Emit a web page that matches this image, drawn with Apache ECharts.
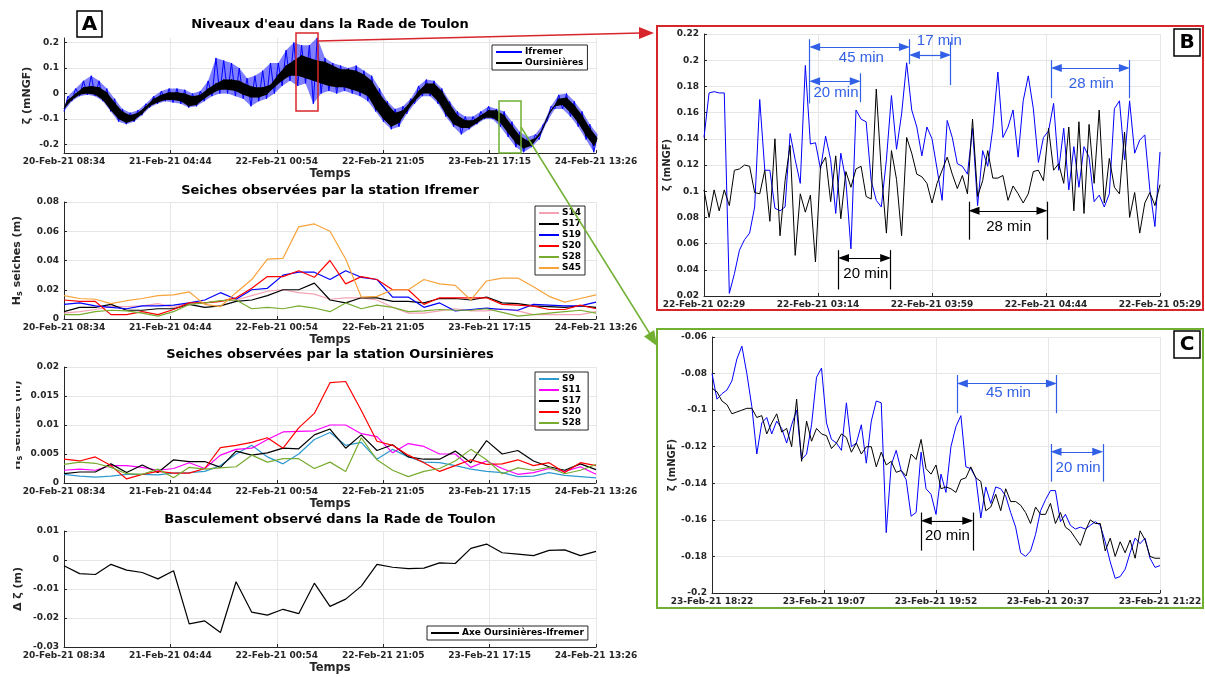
<!DOCTYPE html>
<html lang="fr">
<head>
<meta charset="UTF-8">
<title>Niveaux d'eau dans la Rade de Toulon</title>
<script src="https://cdn.jsdelivr.net/npm/echarts@6.0.0/dist/echarts.min.js"></script>
<style>html,body{margin:0;padding:0;background:#fff;}</style>
</head>
<body>
<div id="main" style="width:1205px;height:677px;"></div>
<script>
// tick labels
const aTicks = ['20-Feb-21 08:34', '21-Feb-21 04:44', '22-Feb-21 00:54', '22-Feb-21 21:05', '23-Feb-21 17:15', '24-Feb-21 13:26'];
const bTicks = ['22-Feb-21 02:29', '22-Feb-21 03:14', '22-Feb-21 03:59', '22-Feb-21 04:44', '22-Feb-21 05:29'];
const cTicks = ['23-Feb-21 18:22', '23-Feb-21 19:07', '23-Feb-21 19:52', '23-Feb-21 20:37', '23-Feb-21 21:22'];

// panel A1 : water level band (high / low of the noisy signal), one pair every ~89 min
const a1Step = 88.6;
const ifrHi = [-0.01,0.02,0.05,0.07,0.05,0.02,-0.02,-0.06,-0.075,-0.065,-0.04,-0.01,0.01,0.02,0.02,0.015,0.0,0.01,0.05,0.14,0.13,0.12,0.10,0.06,0.07,0.09,0.12,0.12,0.17,0.2,0.19,0.19,0.22,0.14,0.12,0.11,0.1,0.11,0.09,0.07,0.02,-0.03,-0.06,-0.05,-0.02,0.03,0.055,0.05,0.02,-0.03,-0.07,-0.09,-0.09,-0.07,-0.05,-0.06,-0.07,-0.11,-0.15,-0.17,-0.16,-0.12,-0.05,-0.005,0.0,-0.03,-0.07,-0.12,-0.16];
const ifrLo = [-0.07,-0.03,-0.01,-0.005,-0.01,-0.03,-0.07,-0.11,-0.12,-0.11,-0.085,-0.055,-0.04,-0.03,-0.035,-0.04,-0.055,-0.05,-0.03,-0.01,0.0,0.0,-0.01,-0.02,-0.05,-0.03,-0.02,0.0,0.03,0.05,0.03,0.04,-0.04,0.0,0.01,0.0,0.01,0.0,-0.01,-0.03,-0.07,-0.11,-0.14,-0.13,-0.08,-0.04,-0.01,-0.01,-0.04,-0.09,-0.13,-0.16,-0.14,-0.12,-0.1,-0.1,-0.13,-0.17,-0.21,-0.23,-0.21,-0.18,-0.11,-0.06,-0.06,-0.09,-0.13,-0.18,-0.23];
const ourHi = [-0.025,0.0,0.025,0.03,0.025,0.005,-0.035,-0.07,-0.085,-0.075,-0.05,-0.02,-0.005,0.005,0.005,0.0,-0.01,-0.005,0.02,0.04,0.055,0.055,0.05,0.035,0.025,0.025,0.035,0.075,0.11,0.13,0.15,0.14,0.13,0.125,0.11,0.095,0.095,0.09,0.075,0.05,0.0,-0.04,-0.075,-0.065,-0.03,0.01,0.04,0.04,0.01,-0.04,-0.085,-0.105,-0.105,-0.085,-0.065,-0.065,-0.085,-0.125,-0.165,-0.185,-0.175,-0.135,-0.065,-0.02,-0.015,-0.045,-0.085,-0.135,-0.175];
const ourLo = [-0.06,-0.025,-0.005,0.0,-0.005,-0.025,-0.065,-0.1,-0.115,-0.105,-0.08,-0.05,-0.035,-0.025,-0.025,-0.03,-0.05,-0.045,-0.02,0.0,0.015,0.015,0.01,-0.005,-0.015,-0.015,-0.005,0.025,0.05,0.07,0.07,0.06,0.05,0.04,0.03,0.025,0.025,0.015,0.005,-0.01,-0.06,-0.1,-0.13,-0.115,-0.07,-0.03,0.0,0.0,-0.03,-0.08,-0.12,-0.135,-0.135,-0.115,-0.095,-0.095,-0.115,-0.155,-0.195,-0.215,-0.205,-0.165,-0.095,-0.05,-0.045,-0.075,-0.115,-0.165,-0.205];

// panels A2-A4 : sample times (minutes after 20-Feb-21 08:34)
const seichT = [0,178,356,534,712,890,1068,1246,1424,1601,1779,1957,2135,2313,2491,2669,2847,3025,3203,3381,3559,3737,3915,4093,4271,4449,4627,4805,4983,5161,5339,5516,5694,5872,6050];

// A2 : seiches Ifremer
const ifrS14 = [0.004,0.005,0.0065,0.0085,0.0085,0.009,0.0105,0.008,0.011,0.011,0.012,0.013,0.016,0.019,0.020,0.018,0.017,0.0135,0.0145,0.0145,0.013,0.008,0.004,0.004,0.0055,0.007,0.0055,0.0055,0.007,0.0055,0.003,0.003,0.003,0.003,0.005];
const ifrS17 = [0.005,0.008,0.008,0.010,0.006,0.006,0.007,0.007,0.010,0.008,0.009,0.012,0.013,0.016,0.020,0.020,0.0245,0.013,0.011,0.0145,0.0145,0.012,0.012,0.011,0.014,0.014,0.013,0.015,0.011,0.0105,0.009,0.0085,0.008,0.009,0.008];
const ifrS19 = [0.010,0.011,0.009,0.008,0.007,0.009,0.009,0.0095,0.011,0.013,0.018,0.0135,0.020,0.021,0.030,0.032,0.032,0.027,0.033,0.0285,0.027,0.015,0.015,0.008,0.011,0.0055,0.0065,0.0075,0.0065,0.006,0.010,0.0095,0.009,0.009,0.0115];
const ifrS20 = [0.013,0.012,0.012,0.003,0.003,0.005,0.003,0.0065,0.011,0.011,0.012,0.0145,0.021,0.029,0.029,0.033,0.0285,0.040,0.024,0.029,0.027,0.020,0.020,0.010,0.0145,0.0145,0.0145,0.0145,0.010,0.0095,0.0088,0.0065,0.0065,0.0095,0.007];
const ifrS28 = [0.003,0.003,0.005,0.006,0.0055,0.004,0.002,0.005,0.010,0.011,0.0125,0.013,0.007,0.008,0.007,0.009,0.0075,0.005,0.011,0.007,0.0095,0.008,0.005,0.0055,0.0065,0.006,0.006,0.007,0.0045,0.002,0.003,0.004,0.005,0.006,0.004];
const ifrS45 = [0.016,0.014,0.0135,0.0105,0.0125,0.014,0.016,0.0165,0.0185,0.010,0.0085,0.018,0.027,0.041,0.0415,0.063,0.065,0.060,0.041,0.015,0.0155,0.020,0.020,0.027,0.024,0.023,0.013,0.026,0.028,0.028,0.022,0.0155,0.0115,0.014,0.0165];

// A3 : seiches Oursinieres
const ourS9 = [0.0015,0.0012,0.001,0.0012,0.0015,0.0015,0.0014,0.0017,0.0018,0.002,0.003,0.005,0.0065,0.0045,0.0033,0.005,0.0075,0.0087,0.0065,0.007,0.0041,0.0058,0.0045,0.0036,0.0035,0.003,0.0024,0.002,0.0018,0.0011,0.0012,0.0018,0.0013,0.0011,0.0009];
const ourS11 = [0.0022,0.0024,0.0022,0.003,0.003,0.0027,0.0022,0.0025,0.0035,0.0025,0.0048,0.0058,0.006,0.0075,0.0088,0.0089,0.009,0.010,0.010,0.0085,0.008,0.0052,0.0068,0.0063,0.005,0.005,0.0027,0.0038,0.0025,0.0015,0.0018,0.0025,0.002,0.0028,0.0015];
const ourS17 = [0.0016,0.0019,0.0019,0.0033,0.0018,0.0031,0.0018,0.0040,0.0037,0.0037,0.0027,0.0055,0.0048,0.0052,0.006,0.0059,0.0083,0.0093,0.006,0.0083,0.0056,0.0066,0.0045,0.0041,0.0041,0.0055,0.0035,0.0073,0.005,0.0056,0.0038,0.0028,0.0022,0.0033,0.0023];
const ourS20 = [0.0041,0.0038,0.0045,0.003,0.0007,0.0015,0.002,0.0017,0.0017,0.0025,0.0061,0.0065,0.007,0.0078,0.006,0.0095,0.012,0.0173,0.0175,0.0125,0.0072,0.0065,0.0048,0.0035,0.002,0.003,0.004,0.0032,0.0033,0.004,0.003,0.0035,0.0018,0.0035,0.003];
const ourS28 = [0.0032,0.0036,0.0034,0.0027,0.0016,0.0015,0.0024,0.0009,0.0027,0.0024,0.0026,0.0028,0.0048,0.0036,0.0042,0.0042,0.0025,0.0036,0.002,0.0078,0.004,0.0022,0.0011,0.002,0.0025,0.0038,0.0058,0.004,0.0016,0.0026,0.0022,0.0027,0.0016,0.0022,0.0032];

// A4 : basculement
const basc = [-0.002,-0.0047,-0.005,-0.0015,-0.0035,-0.0043,-0.0065,-0.0037,-0.022,-0.021,-0.025,-0.0075,-0.018,-0.019,-0.017,-0.0185,-0.008,-0.016,-0.0135,-0.009,-0.0015,-0.0025,-0.003,-0.0028,-0.001,-0.0012,0.004,0.0055,0.0025,0.002,0.0015,0.0033,0.0035,0.0015,0.003];

// B and C : one value every 2 min over 3 h
const zoomStep = 2;
const bIfr = [0.141,0.175,0.176,0.175,0.175,0.022,0.037,0.055,0.063,0.068,0.088,0.17,0.116,0.116,0.087,0.085,0.088,0.144,0.124,0.106,0.196,0.136,0.137,0.117,0.142,0.124,0.083,0.129,0.108,0.056,0.162,0.155,0.153,0.108,0.093,0.088,0.124,0.173,0.132,0.159,0.198,0.162,0.149,0.127,0.149,0.140,0.117,0.093,0.154,0.141,0.121,0.119,0.113,0.148,0.089,0.131,0.119,0.148,0.191,0.141,0.149,0.162,0.126,0.169,0.188,0.163,0.122,0.141,0.146,0.167,0.116,0.148,0.101,0.134,0.103,0.134,0.126,0.092,0.097,0.088,0.098,0.163,0.169,0.124,0.169,0.129,0.139,0.143,0.101,0.073,0.13];
const bOur = [0.101,0.080,0.101,0.085,0.101,0.089,0.116,0.117,0.12,0.119,0.099,0.098,0.116,0.077,0.140,0.066,0.108,0.135,0.051,0.098,0.084,0.097,0.046,0.119,0.126,0.092,0.127,0.079,0.115,0.103,0.117,0.119,0.096,0.094,0.178,0.115,0.068,0.131,0.109,0.066,0.141,0.129,0.113,0.111,0.106,0.091,0.106,0.116,0.126,0.113,0.102,0.112,0.098,0.155,0.096,0.108,0.131,0.110,0.110,0.112,0.093,0.104,0.098,0.091,0.098,0.115,0.116,0.108,0.148,0.116,0.121,0.106,0.149,0.085,0.153,0.083,0.151,0.106,0.162,0.091,0.125,0.103,0.098,0.145,0.080,0.099,0.068,0.091,0.099,0.089,0.105];
const cIfr = [-0.080,-0.094,-0.091,-0.089,-0.084,-0.072,-0.065,-0.080,-0.098,-0.124,-0.107,-0.104,-0.113,-0.106,-0.110,-0.118,-0.108,-0.100,-0.127,-0.124,-0.108,-0.082,-0.077,-0.107,-0.116,-0.118,-0.122,-0.096,-0.120,-0.118,-0.108,-0.129,-0.106,-0.095,-0.096,-0.167,-0.130,-0.122,-0.133,-0.138,-0.158,-0.156,-0.123,-0.143,-0.146,-0.157,-0.135,-0.145,-0.120,-0.109,-0.103,-0.131,-0.132,-0.137,-0.159,-0.142,-0.151,-0.142,-0.143,-0.147,-0.156,-0.164,-0.178,-0.180,-0.177,-0.168,-0.155,-0.149,-0.144,-0.144,-0.161,-0.157,-0.163,-0.165,-0.164,-0.165,-0.163,-0.161,-0.163,-0.172,-0.183,-0.192,-0.191,-0.187,-0.178,-0.170,-0.173,-0.170,-0.181,-0.186,-0.185];
const cOur = [-0.088,-0.090,-0.095,-0.097,-0.102,-0.101,-0.100,-0.099,-0.099,-0.104,-0.103,-0.113,-0.107,-0.102,-0.112,-0.110,-0.120,-0.094,-0.128,-0.106,-0.117,-0.110,-0.113,-0.114,-0.121,-0.118,-0.113,-0.115,-0.123,-0.118,-0.124,-0.120,-0.120,-0.131,-0.123,-0.130,-0.128,-0.134,-0.133,-0.136,-0.124,-0.127,-0.116,-0.132,-0.135,-0.130,-0.143,-0.142,-0.143,-0.145,-0.138,-0.137,-0.131,-0.137,-0.139,-0.155,-0.153,-0.146,-0.155,-0.143,-0.150,-0.150,-0.152,-0.156,-0.162,-0.153,-0.157,-0.157,-0.151,-0.162,-0.156,-0.164,-0.166,-0.170,-0.174,-0.166,-0.160,-0.162,-0.162,-0.177,-0.170,-0.180,-0.172,-0.178,-0.171,-0.181,-0.166,-0.171,-0.180,-0.181,-0.181];

// annotations (minutes from panel start, value)
// arrows: [x1, x2, y, colour], bars: [x, yTop, yBottom, colour], texts: [x, y, text, colour]
const bArrows = [[41.7, 81.1, 0.210, 'b'], [81.1, 97.4, 0.204, 'b'], [41.7, 61.7, 0.184, 'b'], [137.1, 167.9, 0.194, 'b'], [104.6, 135.4, 0.085, 'k'], [53.1, 73.7, 0.049, 'k']];
const bBars = [[41.7, 0.216, 0.167, 'b'], [81.1, 0.216, 0.197, 'b'], [97.4, 0.214, 0.181, 'b'], [61.7, 0.190, 0.168, 'b'], [137.1, 0.200, 0.171, 'b'], [167.9, 0.200, 0.171, 'b'], [104.6, 0.092, 0.063, 'k'], [135.4, 0.092, 0.063, 'k'], [53.1, 0.055, 0.025, 'k'], [73.7, 0.055, 0.025, 'k']];
const bTexts = [[62.1, 0.202, '45 min', 'b'], [92.9, 0.2144, '17 min', 'b'], [52.1, 0.175, '20 min', 'b'], [152.9, 0.182, '28 min', 'b'], [120.3, 0.073, '28 min', 'k'], [63.9, 0.037, '20 min', 'k']];
const cArrows = [[98.6, 138.4, -0.0854, 'b'], [136.2, 157.0, -0.1228, 'b'], [84.1, 104.8, -0.1605, 'k']];
const cBars = [[98.6, -0.0808, -0.1017, 'b'], [138.4, -0.0808, -0.1017, 'b'], [136.2, -0.1185, -0.1391, 'b'], [157.0, -0.1185, -0.1391, 'b'], [84.1, -0.156, -0.1768, 'k'], [104.8, -0.156, -0.1768, 'k']];
const cTexts = [[119.1, -0.0908, '45 min', 'b'], [147.1, -0.1315, '20 min', 'b'], [94.6, -0.1687, '20 min', 'k']];

const annColor = { b: '#3160e6', k: '#000000' };
const axisCol = '#262626';
const gridCol = '#e6e6e6';
const boldFont = 'DejaVu Sans';

function pairs(xs, ys) { return ys.map((v, i) => [xs[i], v]); }
// zigzag between the low and the high reading of each step
function band(hi, lo, step) {
  const out = [];
  hi.forEach((h, i) => {
    out.push([i * step, lo[i]]);
    out.push([i * step + step / 2, h]);
  });
  return out;
}
const zoomT = bIfr.map((v, i) => i * zoomStep);

function xAxis(gi, max, interval, ticks, name) {
  return {
    type: 'value', gridIndex: gi, min: 0, max: max, interval: interval,
    axisLine: { show: true, onZero: false, lineStyle: { color: axisCol } },
    axisTick: { show: true, inside: true, length: 3, lineStyle: { color: axisCol } },
    axisLabel: { formatter: v => ticks[Math.round(v / interval)] || '', color: axisCol, fontSize: 9, fontWeight: 'bold', fontFamily: boldFont, margin: 4, showMinLabel: true, showMaxLabel: true },
    splitLine: { show: true, lineStyle: { color: gridCol } },
    name: name, nameLocation: 'middle', nameGap: 15,
    nameTextStyle: { color: axisCol, fontSize: 11.5, fontWeight: 'bold', fontFamily: boldFont }
  };
}
function yAxis(gi, min, max, interval, name, gap, nameSize, extra) {
  const ax = {
    type: 'value', gridIndex: gi, min: min, max: max,
    axisLine: { show: true, onZero: false, lineStyle: { color: axisCol } },
    axisTick: { show: true, inside: true, length: 3, lineStyle: { color: axisCol } },
    axisLabel: { color: axisCol, fontSize: 9, fontWeight: 'bold', fontFamily: boldFont, margin: 5 },
    splitLine: { show: true, lineStyle: { color: gridCol } },
    name: name, nameLocation: 'middle', nameGap: gap,
    nameTextStyle: { color: axisCol, fontSize: nameSize, fontWeight: 'bold', fontFamily: boldFont,
      rich: { n: { fontSize: nameSize, fontWeight: 'bold', fontFamily: boldFont, color: axisCol },
              s: { fontSize: 8, fontWeight: 'bold', fontFamily: boldFont, color: axisCol, padding: [6, 0, 0, 0] } } }
  };
  if (interval) ax.interval = interval;
  if (extra) {
    ax.axisLabel.customValues = extra;
    ax.axisTick.customValues = extra;
  }
  return ax;
}
function line(name, gi, data, color, width, z) {
  return {
    type: 'line', name: name, xAxisIndex: gi, yAxisIndex: gi, data: data,
    symbol: 'none', showSymbol: false, z: z || 2,
    lineStyle: { color: color, width: width }, itemStyle: { color: color },
    emphasis: { disabled: true }
  };
}
// polygon between the high and low readings of the A1 signal
function fill(hi, lo, step, color, opacity, z) {
  return {
    type: 'custom', xAxisIndex: 0, yAxisIndex: 0, z: z, silent: true,
    data: [[0, lo[0]]],
    renderItem: function (params, api) {
      const pts = [];
      hi.forEach((v, i) => pts.push(api.coord([i * step + step / 2, v])));
      for (let i = lo.length - 1; i >= 0; i--) pts.push(api.coord([i * step, lo[i]]));
      return { type: 'polygon', shape: { points: pts }, style: { fill: color, opacity: opacity } };
    }
  };
}
function annotations(arrows, bars, texts, pxPerMin) {
  const inset = 5 / pxPerMin;
  const lines = [];
  arrows.forEach(a => {
    lines.push([
      { coord: [a[0] + inset, a[2]], symbol: 'triangle', symbolSize: [8, 11], lineStyle: { color: annColor[a[3]], width: 1.2, type: 'solid' }, itemStyle: { color: annColor[a[3]] } },
      { coord: [a[1] - inset, a[2]], symbol: 'triangle', symbolSize: [8, 11] }
    ]);
  });
  bars.forEach(b => {
    lines.push([
      { coord: [b[0], b[1]], symbol: 'none', lineStyle: { color: annColor[b[3]], width: 1.2, type: 'solid' } },
      { coord: [b[0], b[2]], symbol: 'none' }
    ]);
  });
  return {
    markLine: { silent: true, animation: false, symbol: ['none', 'none'], label: { show: false }, emphasis: { disabled: true }, data: lines },
    markPoint: {
      silent: true, animation: false, symbol: 'rect', symbolSize: 1, itemStyle: { color: 'rgba(0,0,0,0)' },
      label: { show: true, position: 'inside', formatter: '{b}', fontSize: 15, fontFamily: 'Liberation Sans' },
      data: texts.map(t => ({ name: t[2], coord: [t[0], t[1]], label: { color: annColor[t[3]] } }))
    }
  };
}

const legendBase = {
  orient: 'vertical', selectedMode: false, backgroundColor: '#fff',
  borderColor: axisCol, borderWidth: 1, padding: [2, 4, 2, 3],
  itemGap: 1, itemWidth: 20, itemHeight: 10, icon: 'inherit',
  itemStyle: { opacity: 0 },
  textStyle: { fontSize: 9, fontWeight: 'bold', fontFamily: boldFont, color: '#000', lineHeight: 10, padding: [0, 0, 0, -2] }
};
function legend(opts) { return Object.assign({}, legendBase, opts); }

const titleStyle = { fontSize: 13, fontWeight: 'bold', fontFamily: boldFont, color: '#000' };
function title(text, top) { return { text: text, left: 330, top: top, textAlign: 'center', padding: 0, textStyle: titleStyle }; }

const chart = echarts.init(document.getElementById('main'));

const bBlack = line('B Oursinieres', 4, pairs(zoomT, bOur), '#000000', 1, 3);
Object.assign(bBlack, annotations(bArrows, bBars, bTexts, 456 / 180));
const cBlack = line('C Oursinieres', 5, pairs(zoomT, cOur), '#000000', 1, 3);
Object.assign(cBlack, annotations(cArrows, cBars, cTexts, 448 / 180));

const option = {
  animation: false,
  backgroundColor: '#ffffff',
  title: [
    title("Niveaux d'eau dans la Rade de Toulon", 18),
    title('Seiches observées par la station Ifremer', 184),
    title('Seiches observées par la station Oursinières', 348),
    title('Basculement observé dans la Rade de Toulon', 513)
  ],
  legend: [
    legend({ left: 492, top: 45, itemWidth: 26, data: ['Ifremer', 'Oursinières'] }),
    legend({ left: 535, top: 206, data: ['S14', 'S17', 'S19', 'S20', 'S28', 'S45'] }),
    legend({ left: 535, top: 372, data: ['S9', 'S11', 'S17 ', 'S20 ', 'S28 '] }),
    legend({ left: 427, top: 626, itemWidth: 28, orient: 'horizontal', data: ['Axe Oursinières-Ifremer'] })
  ],
  grid: [
    { left: 64, top: 38, width: 532, height: 115, outerBoundsMode: 'none' },
    { left: 64, top: 202, width: 532, height: 117, outerBoundsMode: 'none' },
    { left: 64, top: 367, width: 532, height: 116, outerBoundsMode: 'none' },
    { left: 64, top: 531, width: 532, height: 116, outerBoundsMode: 'none' },
    { left: 704, top: 34, width: 456, height: 262, outerBoundsMode: 'none' },
    { left: 712, top: 337, width: 448, height: 256, outerBoundsMode: 'none' }
  ],
  xAxis: [
    xAxis(0, 6050, 1210, aTicks, 'Temps'),
    xAxis(1, 6050, 1210, aTicks, 'Temps'),
    xAxis(2, 6050, 1210, aTicks, 'Temps'),
    xAxis(3, 6050, 1210, aTicks, 'Temps'),
    xAxis(4, 180, 45, bTicks, ''),
    xAxis(5, 180, 45, cTicks, '')
  ],
  yAxis: [
    yAxis(0, -0.233, 0.218, null, '\u03B6 (mNGF)', 31, 11, [-0.2, -0.1, 0, 0.1, 0.2]),
    yAxis(1, 0, 0.08, 0.02, '{n|H}{s|s}{n| seiches (m)}', 40, 11),
    yAxis(2, 0, 0.02, 0.005, '{n|H}{s|s}{n| seiches (m)}', 40, 11),
    yAxis(3, -0.03, 0.01, 0.01, '\u0394 \u03B6 (m)', 40, 11),
    yAxis(4, 0.02, 0.22, 0.02, '\u03B6 (mNGF)', 30, 10),
    yAxis(5, -0.2, -0.06, 0.02, '\u03B6 (mNGF)', 28, 10)
  ],
  series: [
    fill(ifrHi, ifrLo, a1Step, '#0000ff', 0.5, 1),
    line('Ifremer', 0, band(ifrHi, ifrLo, a1Step), '#0000ff', 1, 2),
    fill(ourHi, ourLo, a1Step, '#000000', 1, 3),
    line('Oursinières', 0, band(ourHi, ourLo, a1Step), '#000000', 1, 4),

    line('S14', 1, pairs(seichT, ifrS14), '#f4a3b5', 1.2),
    line('S17', 1, pairs(seichT, ifrS17), '#000000', 1.2),
    line('S19', 1, pairs(seichT, ifrS19), '#0000ff', 1.2),
    line('S20', 1, pairs(seichT, ifrS20), '#ff0000', 1.2),
    line('S28', 1, pairs(seichT, ifrS28), '#77ac30', 1.2),
    line('S45', 1, pairs(seichT, ifrS45), '#f7a33a', 1.2),

    line('S9', 2, pairs(seichT, ourS9), '#2e9ad0', 1.2),
    line('S11', 2, pairs(seichT, ourS11), '#ff00ff', 1.2),
    line('S17 ', 2, pairs(seichT, ourS17), '#000000', 1.2),
    line('S20 ', 2, pairs(seichT, ourS20), '#ff0000', 1.2),
    line('S28 ', 2, pairs(seichT, ourS28), '#77ac30', 1.2),

    line('Axe Oursinières-Ifremer', 3, pairs(seichT, basc), '#000000', 1.2),

    line('B Ifremer', 4, pairs(zoomT, bIfr), '#0000ff', 1),
    bBlack,
    line('C Ifremer', 5, pairs(zoomT, cIfr), '#0000ff', 1),
    cBlack
  ],
  graphic: [
    // panel letters
    { type: 'rect', z: 100, shape: { x: 77, y: 11, width: 25, height: 26 }, style: { fill: '#fff', stroke: '#000', lineWidth: 1.5 } },
    { type: 'text', z: 101, x: 89.5, y: 25, style: { text: 'A', font: 'bold 20px "DejaVu Sans"', fill: '#000', textAlign: 'center', textVerticalAlign: 'middle' } },
    { type: 'rect', z: 100, shape: { x: 1174, y: 29, width: 26, height: 27 }, style: { fill: '#fff', stroke: '#000', lineWidth: 1.5 } },
    { type: 'text', z: 101, x: 1187, y: 43, style: { text: 'B', font: 'bold 20px "DejaVu Sans"', fill: '#000', textAlign: 'center', textVerticalAlign: 'middle' } },
    { type: 'rect', z: 100, shape: { x: 1174, y: 331, width: 26, height: 27 }, style: { fill: '#fff', stroke: '#000', lineWidth: 1.5 } },
    { type: 'text', z: 101, x: 1187, y: 345, style: { text: 'C', font: 'bold 20px "DejaVu Sans"', fill: '#000', textAlign: 'center', textVerticalAlign: 'middle' } },
    // zoom frames
    { type: 'rect', z: 100, shape: { x: 657, y: 26, width: 546, height: 284 }, style: { fill: 'none', stroke: '#d7262b', lineWidth: 2 } },
    { type: 'rect', z: 100, shape: { x: 657, y: 329, width: 546, height: 279 }, style: { fill: 'none', stroke: '#72b034', lineWidth: 2 } },
    // windows in panel A
    { type: 'rect', z: 100, shape: { x: 296, y: 33, width: 22, height: 78 }, style: { fill: 'none', stroke: '#d7262b', lineWidth: 1.5 } },
    { type: 'rect', z: 100, shape: { x: 499, y: 101, width: 22, height: 52 }, style: { fill: 'none', stroke: '#72b034', lineWidth: 1.5 } },
    // connectors
    { type: 'line', z: 100, shape: { x1: 318, y1: 41, x2: 641, y2: 33 }, style: { stroke: '#d7262b', lineWidth: 1.5 } },
    { type: 'polygon', z: 100, shape: { points: [[654, 33], [639, 27], [639, 39]] }, style: { fill: '#d7262b' } },
    { type: 'line', z: 100, shape: { x1: 521, y1: 127, x2: 650, y2: 334 }, style: { stroke: '#72b034', lineWidth: 1.5 } },
    { type: 'polygon', z: 100, shape: { points: [[657, 346], [644, 336.5], [654.2, 330.1]] }, style: { fill: '#72b034' } },
    // partly hidden y label of the Oursinieres panel
    { type: 'rect', z: 100, shape: { x: 0, y: 370, width: 16, height: 110 }, style: { fill: '#fff' } }
  ]
};
chart.setOption(option);
</script>
</body>
</html>
